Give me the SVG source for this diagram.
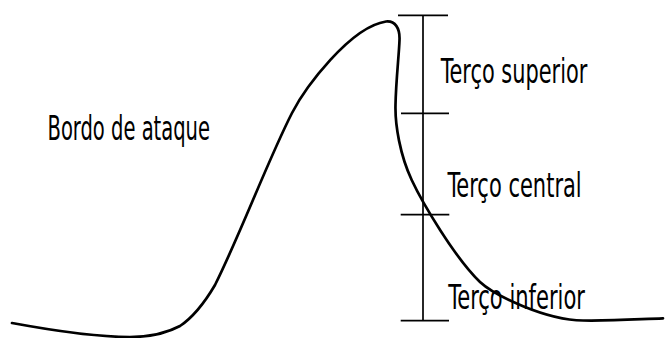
<svg xmlns="http://www.w3.org/2000/svg" width="665" height="338" viewBox="0 0 665 338">
<style>
.bg{fill:#ffffff}
.curve{fill:none;stroke:#000;stroke-width:2.7;stroke-linecap:round;stroke-linejoin:round}
.rule{fill:none;stroke:#000;stroke-width:1.7}
.lbl{font-family:"Liberation Sans Narrow","DejaVu Sans Condensed","Liberation Sans",sans-serif;font-size:34px;fill:#000}
</style>
<rect class="bg" x="0" y="0" width="665" height="338"/>
<g id="profile">
<path class="curve" d="M12,323 C50,330 100,337 130,337 C150,337 165,334 180,326 C195,316 205,302 215,285 C240,235 268,160 292,113 C305,88 350,27 386,21.5 C395,20.5 400,28 399.5,40 C399,55 396,80 395.5,105 C395,125 400,155 411.7,180 C422.2,202.5 455,258 480,282 C494,295 545,320 583,320.5 C615,321 640,319 663,318.3"/>
</g>
<g id="scale">
<line class="rule" x1="423" y1="15.3" x2="423" y2="320.7"/>
<line class="rule" x1="398" y1="15.3" x2="448" y2="15.3"/>
<line class="rule" x1="401" y1="113.3" x2="449" y2="113.3"/>
<line class="rule" x1="400.7" y1="214.7" x2="449.3" y2="214.7"/>
<line class="rule" x1="400.7" y1="320.7" x2="449" y2="320.7"/>
</g>
<g id="label-bordo">
<text class="lbl" x="47.5" y="140" textLength="162.5" lengthAdjust="spacingAndGlyphs">Bordo de ataque</text>
</g>
<g id="label-superior">
<text class="lbl" x="440.7" y="83.3" textLength="146.6" lengthAdjust="spacingAndGlyphs">Terço superior</text>
</g>
<g id="label-central">
<text class="lbl" x="447.5" y="196.7" textLength="134.2" lengthAdjust="spacingAndGlyphs">Terço central</text>
</g>
<g id="label-inferior">
<text class="lbl" x="448.3" y="309.3" textLength="136.7" lengthAdjust="spacingAndGlyphs">Terço inferior</text>
</g>
</svg>
